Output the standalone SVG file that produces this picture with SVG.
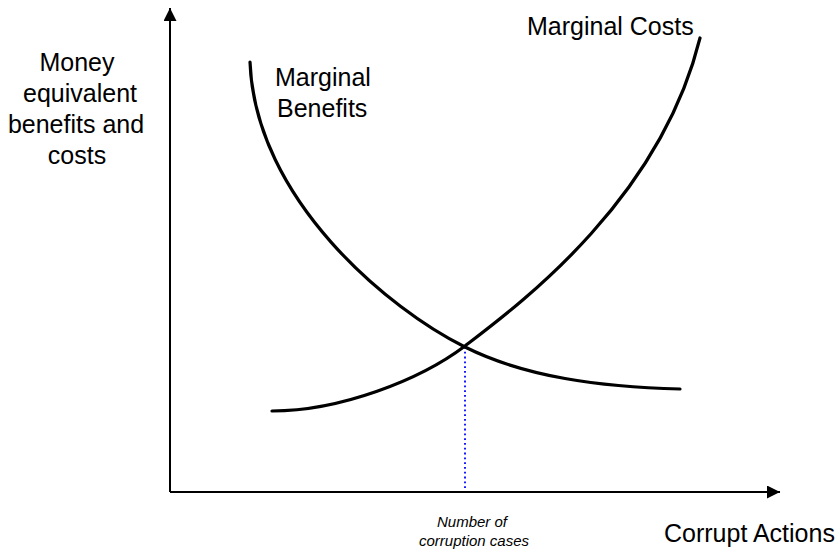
<svg xmlns="http://www.w3.org/2000/svg" width="840" height="551" viewBox="0 0 840 551">
<style>
.lbl{font-family:"Liberation Sans",Arial,sans-serif;font-size:25px;fill:#000}
.sm{font-family:"Liberation Sans",Arial,sans-serif;font-size:15px;font-style:italic;fill:#000}
.curve{fill:none;stroke:#000;stroke-width:3.2;stroke-linecap:round}
.axis{fill:none;stroke:#000;stroke-width:2}
</style>
<defs>
<marker id="ah" viewBox="0 0 10 10" refX="10" refY="5" markerWidth="9.5" markerHeight="6.5" markerUnits="strokeWidth" orient="auto">
<path d="M0,0 L10,5 L0,10 Z" fill="#000"/>
</marker>
</defs>
<rect width="840" height="551" fill="#fff"/>
<g id="axes">
<line class="axis" x1="170" y1="492" x2="170" y2="8" marker-end="url(#ah)"/>
<line class="axis" x1="170" y1="492" x2="780" y2="492" marker-end="url(#ah)"/>
</g>
<g id="connectors">
<line x1="465" y1="347" x2="465" y2="491" stroke="#0000ff" stroke-width="1.8" stroke-dasharray="1.8,3"/>
</g>
<g id="marginal-benefits">
<path class="curve" d="M250,62 C255,200 390,310 465,347 C525,377 600,387 680,389"/>
<text class="lbl" x="275" y="86">Marginal</text>
<text class="lbl" x="277" y="117">Benefits</text>
</g>
<g id="marginal-costs">
<path class="curve" d="M272,411 C340,411 420,380 465,346 C520,304 660,200 700,38"/>
<text class="lbl" x="527" y="35">Marginal Costs</text>
</g>
<g id="y-label">
<text class="lbl" text-anchor="middle" x="77" y="71">Money</text>
<text class="lbl" text-anchor="middle" x="80" y="102">equivalent</text>
<text class="lbl" text-anchor="middle" x="76" y="133">benefits and</text>
<text class="lbl" text-anchor="middle" x="77" y="164">costs</text>
</g>
<g id="x-label">
<text class="lbl" x="664" y="542">Corrupt Actions</text>
</g>
<g id="equilibrium-label">
<text class="sm" text-anchor="middle" x="472" y="527">Number of</text>
<text class="sm" text-anchor="middle" x="474" y="546">corruption cases</text>
</g>
</svg>
